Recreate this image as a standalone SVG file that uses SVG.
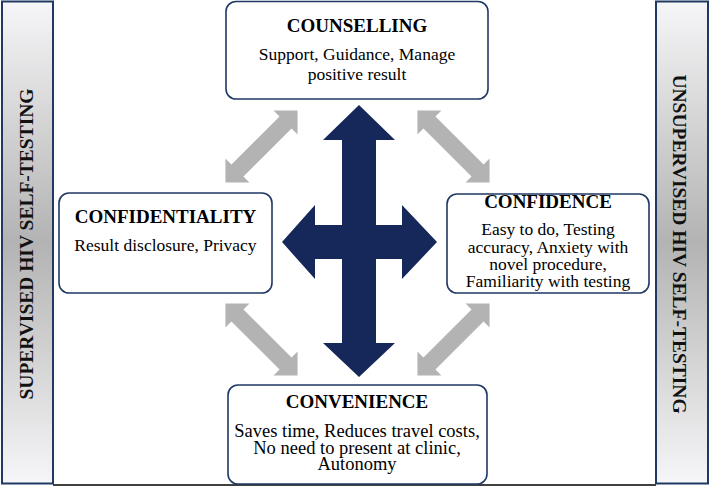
<svg xmlns="http://www.w3.org/2000/svg" width="710" height="487" viewBox="0 0 710 487">
<style>
.bar{stroke:#1f3864;stroke-width:2;fill:url(#barg)}
.box{fill:#ffffff;stroke:#1f3864;stroke-width:1.6}
.title{font-family:"Liberation Serif","Times New Roman",serif;font-weight:bold;font-size:19px;fill:#000;text-anchor:middle}
.body{font-family:"Liberation Serif","Times New Roman",serif;font-size:17.5px;fill:#000;text-anchor:middle}
.big{font-size:18.5px}
.side{font-family:"Liberation Serif","Times New Roman",serif;font-weight:bold;font-size:19.5px;fill:#111;text-anchor:middle}
.gray{fill:#b3b3b3}
.cross{fill:#16285a}
</style>
<defs>
<linearGradient id="barg" x1="0" y1="0" x2="0" y2="1">
<stop offset="0" stop-color="#f6f6f8"/>
<stop offset="0.5" stop-color="#b3b3b3"/>
<stop offset="1" stop-color="#f6f6f8"/>
</linearGradient>
<path id="garrow" d="M -51 0 L -34 -17 L -34 -8.5 L 34 -8.5 L 34 -17 L 51 0 L 34 17 L 34 8.5 L -34 8.5 L -34 17 Z"/>
</defs>
<rect width="710" height="487" fill="#ffffff"/>
<line x1="53" y1="485" x2="656" y2="485" stroke="#000" stroke-width="1.5"/>
<g id="supervised">
<rect class="bar" x="2" y="1.5" width="51" height="482"/>
<text class="side" transform="translate(33,244) rotate(-90)">SUPERVISED HIV SELF-TESTING</text>
</g>
<g id="unsupervised">
<rect class="bar" x="656" y="1.5" width="52" height="482"/>
<text class="side" transform="translate(673,244) rotate(90)">UNSUPERVISED HIV SELF-TESTING</text>
</g>
<g id="connectors">
<use href="#garrow" class="gray" transform="translate(261.5,146.5) rotate(-45)"/>
<use href="#garrow" class="gray" transform="translate(453.5,146.5) rotate(45)"/>
<use href="#garrow" class="gray" transform="translate(261.5,339.5) rotate(45)"/>
<use href="#garrow" class="gray" transform="translate(453.5,339.5) rotate(-45)"/>
<path class="cross" d="M 359 105 L 395 140 L 376 140 L 376 225 L 402 225 L 402 205 L 437 242 L 402 279 L 402 259 L 376 259 L 376 343 L 395 343 L 359 377 L 323 343 L 342 343 L 342 259 L 315 259 L 315 279 L 282 242 L 315 205 L 315 225 L 342 225 L 342 140 L 323 140 Z"/>
</g>
<g id="counselling">
<rect class="box" x="226" y="1.5" width="262" height="97.5" rx="10"/>
<text class="title" x="357" y="32">COUNSELLING</text>
<text class="body" x="357" y="60">Support, Guidance, Manage</text>
<text class="body" x="357" y="80">positive result</text>
</g>
<g id="confidentiality">
<rect class="box" x="59" y="193" width="213" height="100" rx="10"/>
<text class="title" x="165.5" y="223">CONFIDENTIALITY</text>
<text class="body" x="165.5" y="251">Result disclosure, Privacy</text>
</g>
<g id="confidence">
<rect class="box" x="447" y="194" width="202" height="99" rx="10"/>
<text class="title" x="548" y="208">CONFIDENCE</text>
<text class="body" x="548" y="235">Easy to do, Testing</text>
<text class="body" x="548" y="253">accuracy, Anxiety with</text>
<text class="body" x="548" y="270">novel procedure,</text>
<text class="body" x="548" y="287">Familiarity with testing</text>
</g>
<g id="convenience">
<rect class="box" x="228" y="385" width="259" height="99" rx="10"/>
<text class="title" x="357" y="408">CONVENIENCE</text>
<text class="body big" x="357" y="437">Saves time, Reduces travel costs,</text>
<text class="body big" x="357" y="454">No need to present at clinic,</text>
<text class="body big" x="357" y="470">Autonomy</text>
</g>
</svg>
